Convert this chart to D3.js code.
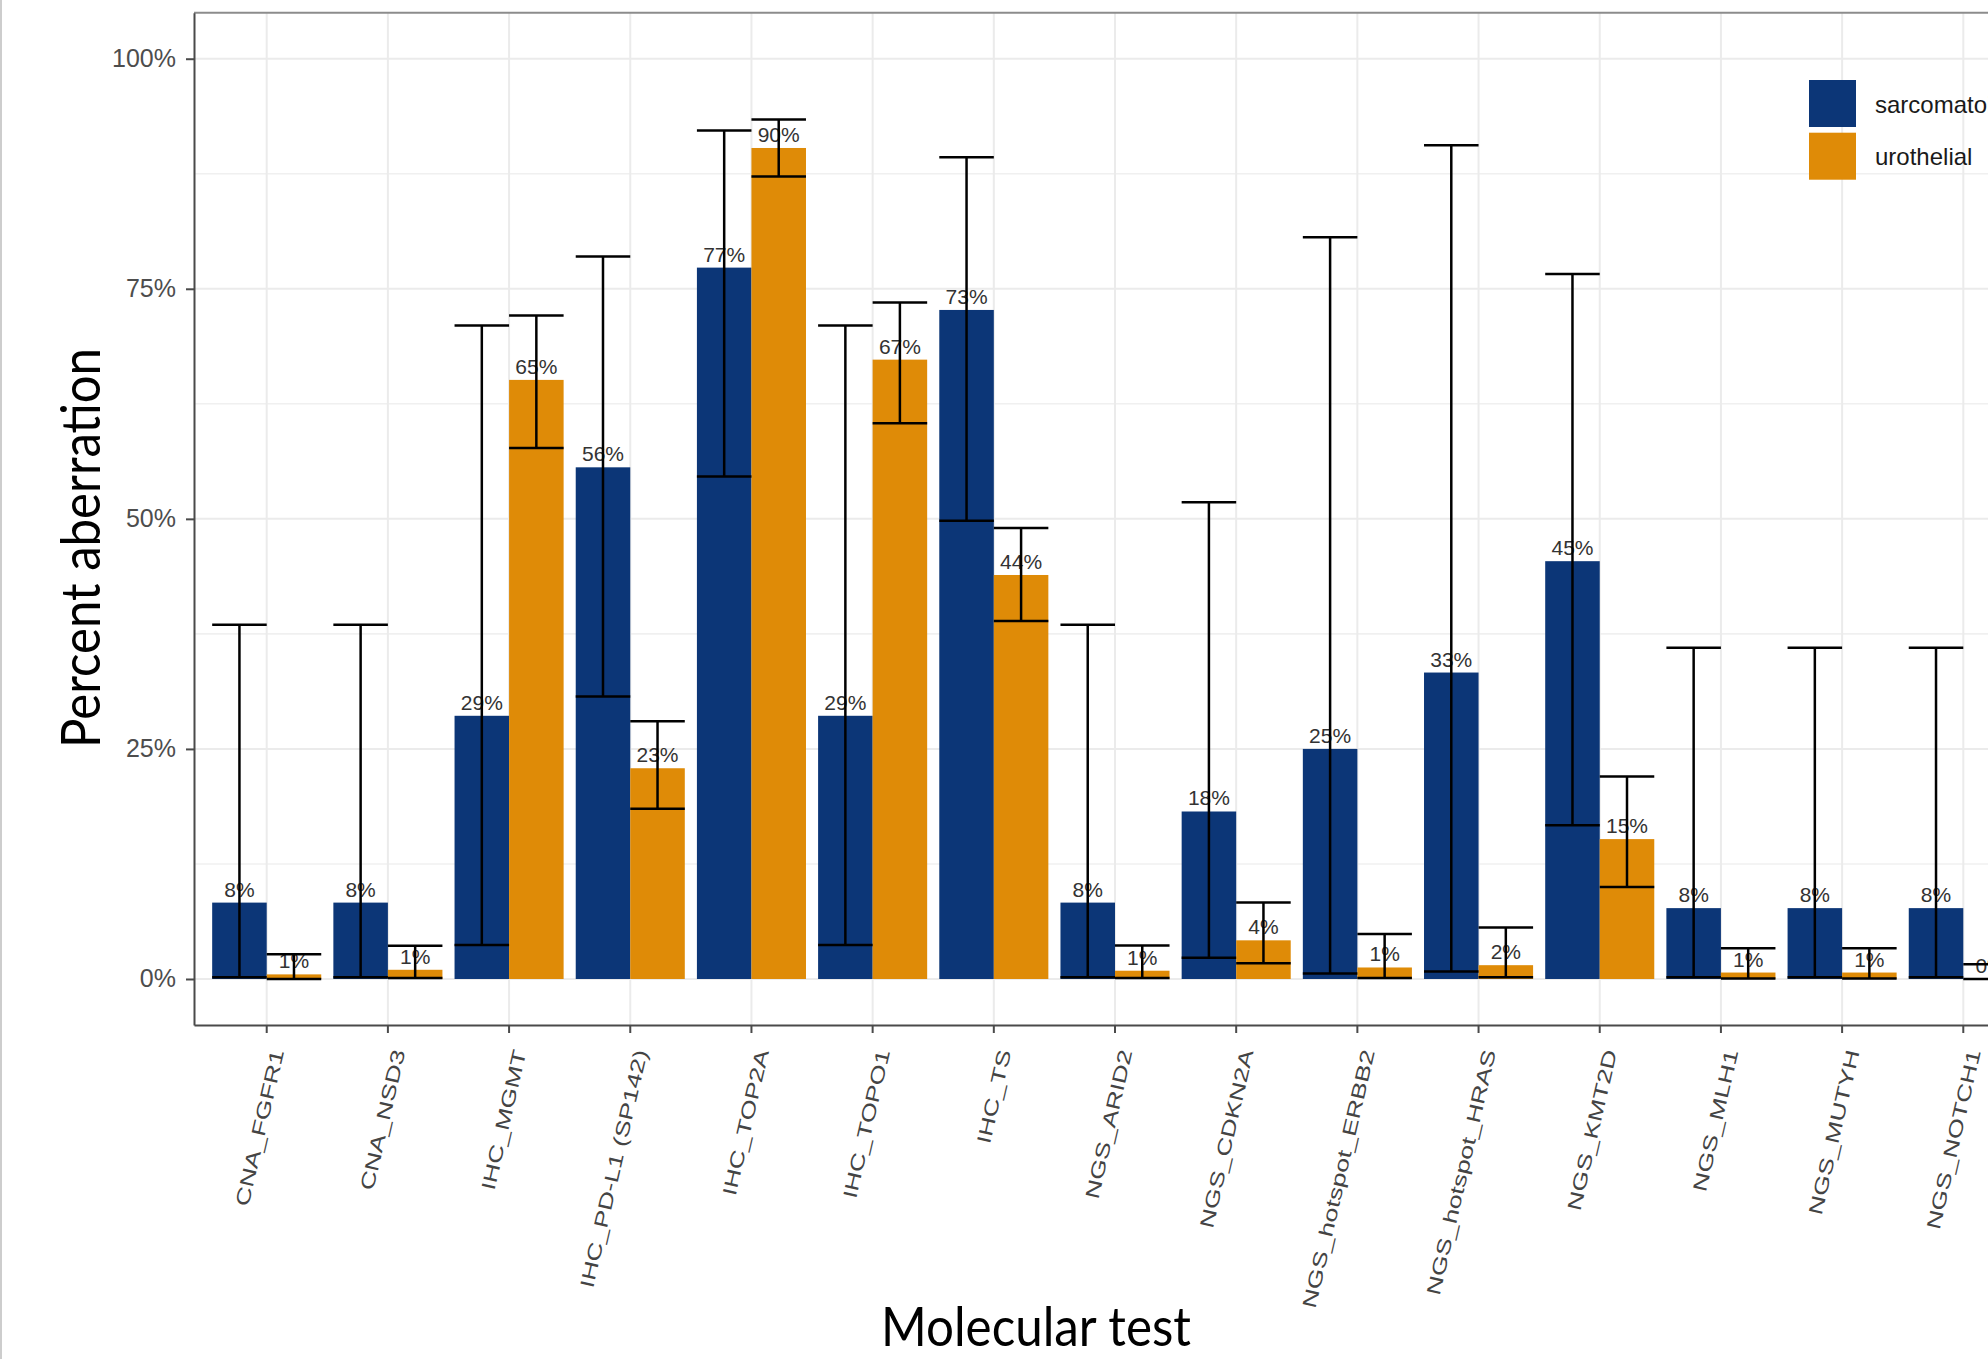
<!DOCTYPE html>
<html>
<head>
<meta charset="utf-8">
<script src="https://cdn.jsdelivr.net/npm/d3@7"></script>
<style>
  body { margin: 0; background: #fff; overflow: hidden; }
</style>
</head>
<body>
<svg></svg>
<script>
// molecular tests on the x axis
var categories = ["CNA_FGFR1", "CNA_NSD3", "IHC_MGMT", "IHC_PD-L1 (SP142)", "IHC_TOP2A",
  "IHC_TOPO1", "IHC_TS", "NGS_ARID2", "NGS_CDKN2A", "NGS_hotspot_ERBB2",
  "NGS_hotspot_HRAS", "NGS_KMT2D", "NGS_MLH1", "NGS_MUTYH", "NGS_NOTCH1"];
var groups = ["sarcomatoid", "urothelial"];

// percent aberration + confidence limits
var sarcomatoid = [0.083, 0.083, 0.286, 0.556, 0.773, 0.286, 0.727, 0.083, 0.182, 0.25, 0.333, 0.454, 0.077, 0.077, 0.077];
var sarcLow     = [0.002, 0.002, 0.037, 0.307, 0.546, 0.037, 0.498, 0.002, 0.023, 0.006, 0.008, 0.167, 0.002, 0.002, 0.002];
var sarcHigh    = [0.385, 0.385, 0.710, 0.785, 0.922, 0.710, 0.893, 0.385, 0.518, 0.806, 0.906, 0.766, 0.360, 0.360, 0.360];

var urothelial  = [0.005, 0.010, 0.651, 0.229, 0.903, 0.673, 0.439, 0.009, 0.042, 0.0125, 0.015, 0.152, 0.007, 0.007, 0.0];
var uroLow      = [0.0001, 0.0012, 0.577, 0.185, 0.872, 0.604, 0.389, 0.001, 0.017, 0.001, 0.002, 0.100, 0.0005, 0.0005, 0.0];
var uroHigh     = [0.027, 0.036, 0.721, 0.280, 0.934, 0.735, 0.490, 0.0365, 0.083, 0.049, 0.056, 0.220, 0.0335, 0.0335, 0.016];

var yTicks = [0, 0.25, 0.5, 0.75, 1];
var yMinorTicks = [0.125, 0.375, 0.625, 0.875];

var colors = {sarcomatoid: "#0c3677", urothelial: "#df8b07"};

var svgWidth = 2040;   // wider than the window, the right side gets cut off like the original
var svgHeight = 1359;
var panel = {left: 194, top: 12.7, right: 2036, bottom: 1025};

var svg = d3.select('svg')
  .attr("width", svgWidth)
  .attr("height", svgHeight);

// flatten into one row per bar
var rows = [];
categories.forEach(function(c, i) {
  rows.push({cat: c, group: "sarcomatoid", value: sarcomatoid[i], low: sarcLow[i], high: sarcHigh[i]});
  rows.push({cat: c, group: "urothelial", value: urothelial[i], low: uroLow[i], high: uroHigh[i]});
});

var x = d3.scaleBand()
  .domain(categories)
  .range([panel.left, panel.right])
  .paddingInner(0.1)
  .paddingOuter(0.15);

var xSub = d3.scaleBand()
  .domain(groups)
  .range([0, x.bandwidth()]);

var y = d3.scaleLinear()
  .domain([-0.05, 1.05])
  .range([panel.bottom, panel.top]);

// image frame line on the far left
svg.append("line")
  .attr("x1", 1).attr("x2", 1)
  .attr("y1", 0).attr("y2", svgHeight)
  .attr("stroke", "#bdbdbd")
  .attr("stroke-width", 1.5);

// grid
var grid = svg.append("g");
grid.selectAll(".minor")
  .data(yMinorTicks)
  .enter()
  .append("line")
  .attr("x1", panel.left).attr("x2", panel.right)
  .attr("y1", function(d) { return y(d); })
  .attr("y2", function(d) { return y(d); })
  .attr("stroke", "#f0f0f0")
  .attr("stroke-width", 1.6);
grid.selectAll(".major")
  .data(yTicks)
  .enter()
  .append("line")
  .attr("x1", panel.left).attr("x2", panel.right)
  .attr("y1", function(d) { return y(d); })
  .attr("y2", function(d) { return y(d); })
  .attr("stroke", "#ebebeb")
  .attr("stroke-width", 2);
grid.selectAll(".vert")
  .data(categories)
  .enter()
  .append("line")
  .attr("x1", function(d) { return x(d) + x.bandwidth() / 2; })
  .attr("x2", function(d) { return x(d) + x.bandwidth() / 2; })
  .attr("y1", panel.top).attr("y2", panel.bottom)
  .attr("stroke", "#ebebeb")
  .attr("stroke-width", 2);

// bars
svg.append("g").selectAll("rect")
  .data(rows)
  .enter()
  .append("rect")
  .attr("x", function(d) { return x(d.cat) + xSub(d.group); })
  .attr("y", function(d) { return y(d.value); })
  .attr("width", xSub.bandwidth())
  .attr("height", function(d) { return y(0) - y(d.value); })
  .attr("fill", function(d) { return colors[d.group]; });

// value labels above the bars
var pct = d3.format(".0%");
svg.append("g").selectAll("text")
  .data(rows)
  .enter()
  .append("text")
  .attr("x", function(d) { return x(d.cat) + xSub(d.group) + xSub.bandwidth() / 2; })
  .attr("y", function(d) { return y(d.value) - 6; })
  .attr("text-anchor", "middle")
  .attr("font-family", "Liberation Sans, Arial, sans-serif")
  .attr("font-size", 21)
  .attr("fill", "#333")
  .text(function(d) { return pct(d.value); });

// error bars (vertical + two caps)
var err = svg.append("g").selectAll("g")
  .data(rows)
  .enter()
  .append("g")
  .attr("stroke", "#000")
  .attr("stroke-width", 2.5);
err.append("line")
  .attr("x1", function(d) { return x(d.cat) + xSub(d.group) + xSub.bandwidth() / 2; })
  .attr("x2", function(d) { return x(d.cat) + xSub(d.group) + xSub.bandwidth() / 2; })
  .attr("y1", function(d) { return y(d.low); })
  .attr("y2", function(d) { return y(d.high); });
["low", "high"].forEach(function(k) {
  err.append("line")
    .attr("x1", function(d) { return x(d.cat) + xSub(d.group); })
    .attr("x2", function(d) { return x(d.cat) + xSub(d.group) + xSub.bandwidth(); })
    .attr("y1", function(d) { return y(d[k]); })
    .attr("y2", function(d) { return y(d[k]); });
});

// legend inside the panel
var legend = svg.append("g")
  .attr("transform", "translate(1809,80)");
var item = legend.selectAll("g")
  .data(groups)
  .enter()
  .append("g")
  .attr("transform", function(d, i) { return "translate(0," + (i * 52.7) + ")"; });
item.append("rect")
  .attr("width", 47)
  .attr("height", 47)
  .attr("fill", function(d) { return colors[d]; });
item.append("text")
  .attr("x", 66)
  .attr("y", 24)
  .attr("dominant-baseline", "central")
  .attr("font-family", "Liberation Sans, Arial, sans-serif")
  .attr("font-size", 24)
  .attr("fill", "#1a1a1a")
  .text(function(d) { return d; });

// panel border top
svg.append("line")
  .attr("x1", panel.left).attr("x2", panel.right)
  .attr("y1", panel.top).attr("y2", panel.top)
  .attr("stroke", "#8c8c8c")
  .attr("stroke-width", 2);

// axes
var yAxis = svg.append("g")
  .attr("transform", "translate(" + panel.left + ",0)")
  .call(d3.axisLeft(y).tickValues(yTicks).tickFormat(pct).tickSize(8).tickSizeOuter(0).tickPadding(10));
yAxis.selectAll("path, line").attr("stroke", "#4a4a4a").attr("stroke-width", 2);
yAxis.selectAll("text")
  .attr("font-family", "Liberation Sans, Arial, sans-serif")
  .attr("font-size", 25)
  .attr("fill", "#4d4d4d");

var xAxis = svg.append("g")
  .attr("transform", "translate(0," + panel.bottom + ")")
  .call(d3.axisBottom(x).tickSize(8).tickSizeOuter(0));
xAxis.selectAll("path, line").attr("stroke", "#4a4a4a").attr("stroke-width", 2);
xAxis.selectAll("text")
  .attr("x", null)
  .attr("y", null)
  .attr("dy", null)
  .attr("text-anchor", "end")
  .attr("dominant-baseline", "central")
  .attr("transform", "translate(11,25) rotate(-77) scale(1.38,1)")
  .attr("font-family", "Liberation Sans, Arial, sans-serif")
  .attr("font-size", 19.5)
  .attr("fill", "#444");

// axis titles
svg.append("text")
  .attr("transform", "translate(100,548) rotate(-90)")
  .attr("text-anchor", "middle")
  .attr("font-family", "Lato, sans-serif")
  .attr("font-size", 55)
  .attr("textLength", 400)
  .attr("lengthAdjust", "spacingAndGlyphs")
  .attr("fill", "#000")
  .text("Percent aberration");

svg.append("text")
  .attr("x", 1036)
  .attr("y", 1346)
  .attr("text-anchor", "middle")
  .attr("font-family", "Lato, sans-serif")
  .attr("font-size", 55)
  .attr("textLength", 310)
  .attr("lengthAdjust", "spacingAndGlyphs")
  .attr("fill", "#000")
  .text("Molecular test");
</script>
</body>
</html>
